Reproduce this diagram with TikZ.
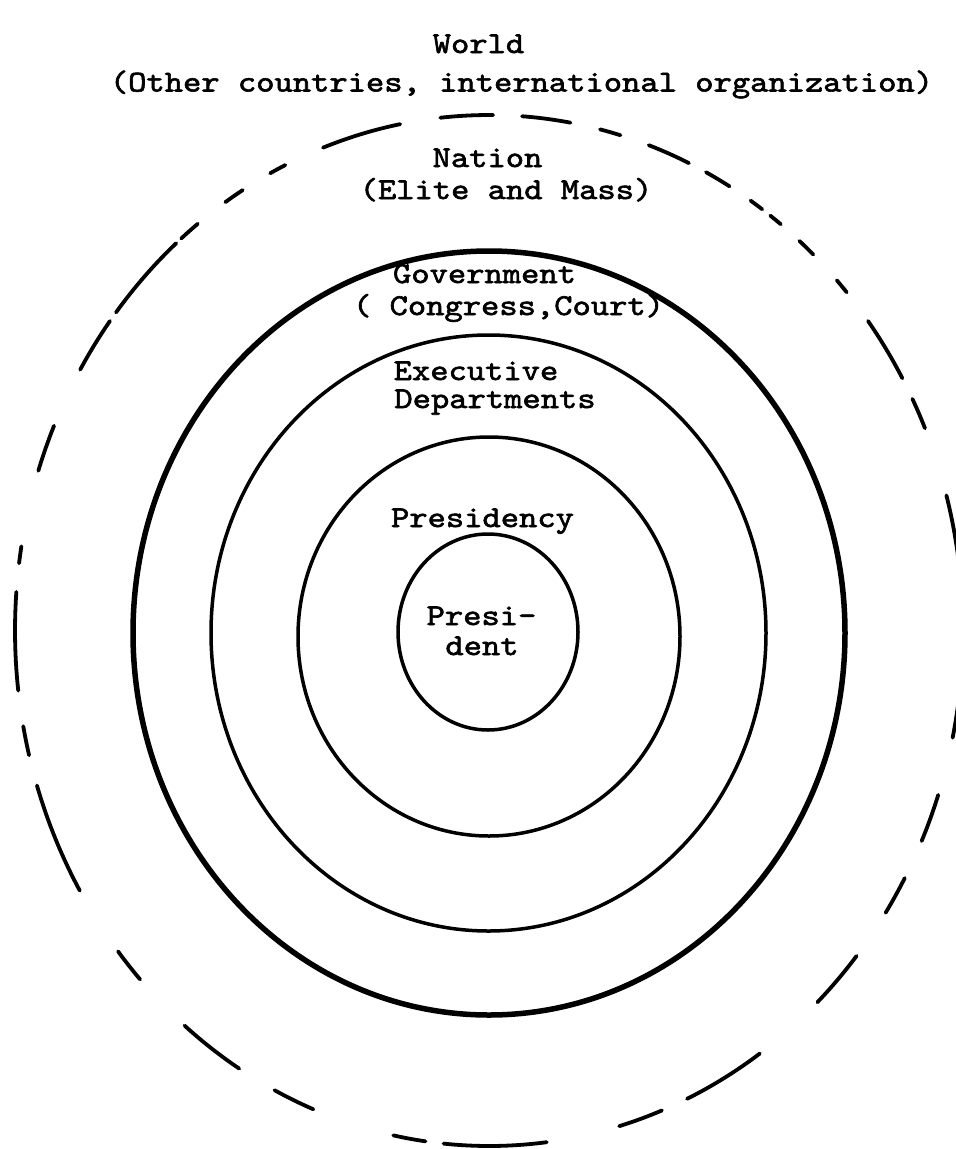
\documentclass[tikz,border=0pt]{standalone}
\usepackage{fontspec}
\newfontfamily\tw[FakeStretch=1.15,FakeBold=2]{lmmono10-regular.otf}
\tikzset{
  lbl/.style={font=\tw\fontsize{30.3}{36}\selectfont, inner sep=0pt, anchor=base, text=black},
  ring/.style={draw=black, line width=3.5pt},
  govline/.style={draw=black, line width=5.5pt},
  natline/.style={draw=black, line width=3.8pt, line cap=round}
}
\begin{document}
\begin{tikzpicture}[x=1pt,y=-1pt]
\useasboundingbox (0,0) rectangle (956,1149);
\fill[white] (0,0) rectangle (956,1149);
\clip (0,0) rectangle (956,1149);

% Nation: hand-drawn dashed ellipse
\coordinate (nc) at (489,630.5);
\foreach \a/\b in {249.5/259.2, 264.1/270.5, 274.0/279.9, 283.55/286.1,
  289.7/294.95, 297.25/300.5, 303.5/305.2, 306.4/308.0, 310.9/313.15,
  317.2/319.0, 323.1/330.7, 333.3/336.9, 344.8/372.0, 18.6/24.1,
  28.7/33.2, 39.15/46.15, 55.15/65.3, 68.6/74.05, 83.0/95.5,
  97.7/101.65, 111.75/116.9, 121.8/129.96, 137.4/141.5, 149.7/162.5,
  166.0/169.3, 173.3/184.3, 187.5/189.4, 198.05/203.4, 210.4/216.9,
  218.1/228.7, 229.5/232.1, 236.2/238.7, 242.5/244.55}
  \draw[natline] (nc) ++(\a:474 and 515.5) arc[start angle=\a, end angle=\b, x radius=474, y radius=515.5];

% Government, Executive Departments, Presidency, President
\draw[govline] (489,633) ellipse [x radius=356, y radius=382];
\draw[ring] (488.5,633) ellipse [x radius=277.5, y radius=298];
\draw[ring] (489,636.5) ellipse [x radius=191, y radius=199.5];
\draw[ring] (488,632) ellipse [x radius=90, y radius=98];

% Labels
\node[lbl] (world) at (478.5,53) {World};
\node[lbl] (worldsub) at (521.5,91.5) {(Other countries, international organization)};
\node[lbl] (nation) at (487.5,167) {Nation};
\node[lbl] (nationsub) at (506,199) {(Elite and Mass)};
\node[lbl] (gov) at (484.5,283) {Government};
\node[lbl] (govsub) at (508.5,315) {( Congress,Court)};
\node[lbl] (exec1) at (476,380) {Executive};
\node[lbl] (exec2) at (495,408) {Departments};
\node[lbl] (pcy) at (482.5,527) {Presidency};
\node[lbl] (pres1) at (481.5,625) {Presi-};
\node[lbl] (pres2) at (482,655) {dent};
\end{tikzpicture}
\end{document}
